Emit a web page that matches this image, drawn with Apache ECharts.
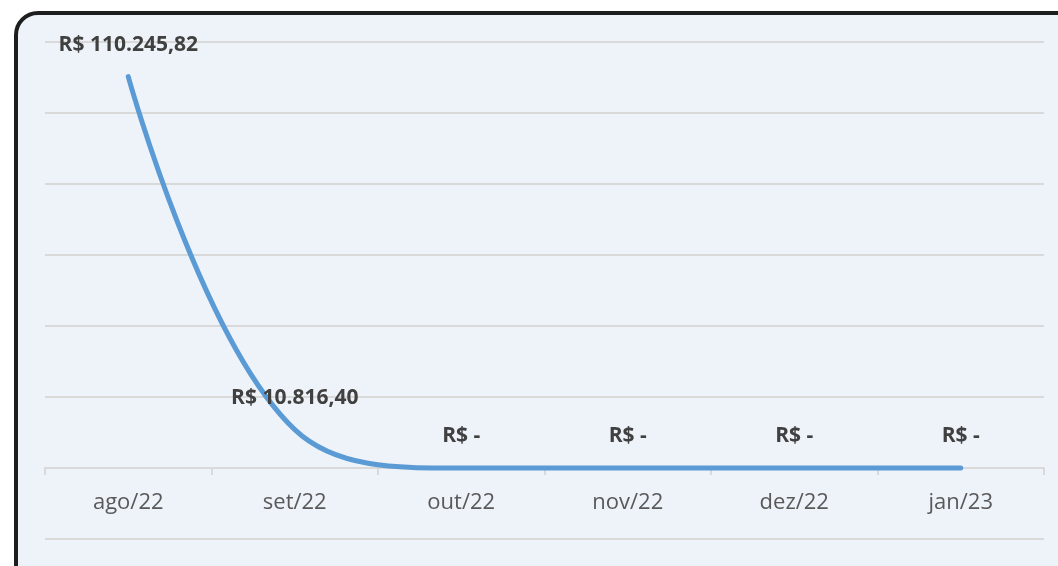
<!DOCTYPE html>
<html>
<head>
<meta charset="utf-8">
<script src="https://cdn.jsdelivr.net/npm/echarts@6/dist/echarts.min.js"></script>
<style>
  html, body { margin: 0; padding: 0; background: #ffffff; overflow: hidden; }
  #frame {
    position: absolute; left: 14px; top: 11px; width: 1070px; height: 580px;
    box-sizing: border-box; border: 4px solid #1e1e1e; border-radius: 24px;
    background: #eef2f9;
  }
  #chart { position: absolute; left: 0; top: 0; width: 1058px; height: 566px; }
</style>
</head>
<body>
<div id="frame"></div>
<div id="chart"></div>
<script>
// meses e valores (R$)
const months = ['ago/22', 'set/22', 'out/22', 'nov/22', 'dez/22', 'jan/23']
const values = [110245.82, 10816.40, 0, 0, 0, 0]

// eixo Y (escondido, só as linhas de grade)
const yMin = -20000
const yMax = 120000
const yStep = 20000

// formata no padrão contábil brasileiro
const fmtBRL = (v) => {
  if (!v) return 'R$ -'
  const [int, dec] = v.toFixed(2).split('.')
  return 'R$ ' + int.replace(/\B(?=(\d{3})+(?!\d))/g, '.') + ',' + dec
}

const chart = echarts.init(document.getElementById('chart'))
chart.setOption({
  animation: false,
  backgroundColor: 'transparent',
  grid: { left: 45, right: 14, top: 42, bottom: 27, containLabel: false, outerBoundsMode: 'none' },
  xAxis: {
    type: 'category',
    data: months,
    boundaryGap: true,
    offset: -71, // eixo sobe até a linha do zero
    axisLine: { onZero: false, lineStyle: { color: '#d9d9d9', width: 2 } },
    axisTick: { show: true, length: 7, lineStyle: { color: '#d9d9d9', width: 2 } },
    axisLabel: { color: '#595959', fontSize: 22, margin: 24, fontFamily: 'Open Sans' }
  },
  yAxis: {
    type: 'value',
    min: yMin,
    max: yMax,
    interval: yStep,
    axisLabel: { show: false },
    axisLine: { show: false },
    axisTick: { show: false },
    splitLine: { lineStyle: { color: '#d9d9d9', width: 2 } }
  },
  series: [
    {
      type: 'line',
      data: values,
      smooth: 0.4,
      symbol: 'circle',
      symbolSize: 1,
      showSymbol: true,
      itemStyle: { color: '#5b9bd5' },
      lineStyle: { color: '#5b9bd5', width: 5, cap: 'round' },
      label: {
        show: true,
        position: 'top',
        distance: 21,
        color: '#404040',
        fontWeight: 'bold',
        fontSize: 21,
        fontFamily: 'Open Sans',
        formatter: (p) => fmtBRL(p.value)
      }
    }
  ]
})
</script>
</body>
</html>
